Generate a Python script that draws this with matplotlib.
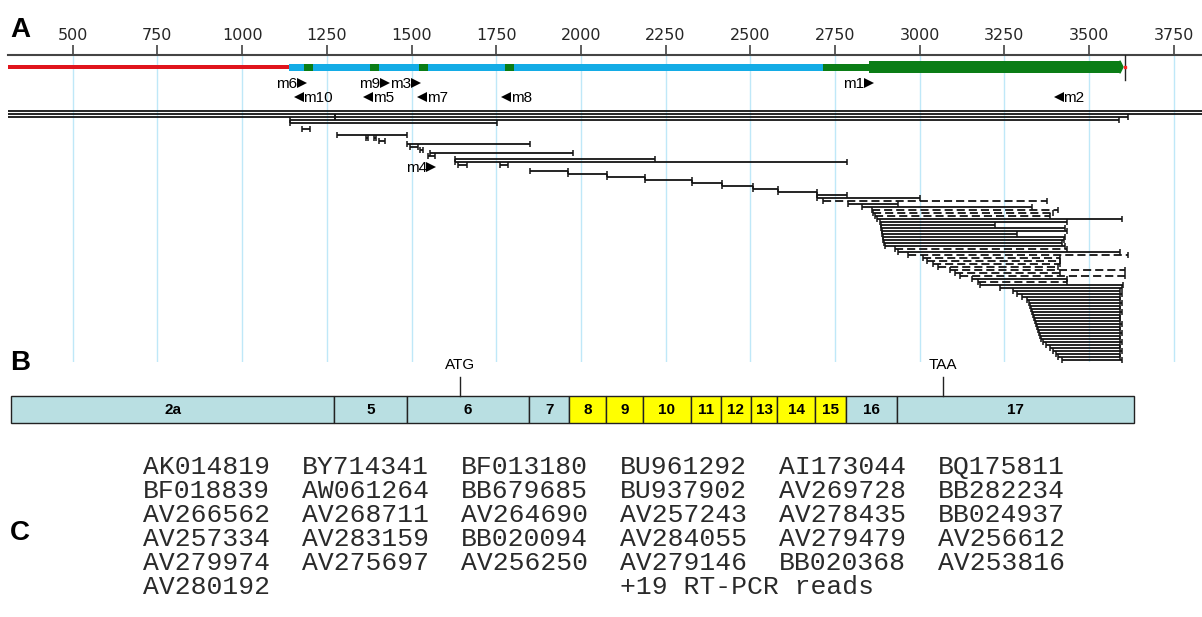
import matplotlib
matplotlib.use("Agg")
import matplotlib.pyplot as plt
from matplotlib.patches import Polygon

# ---------------- data ----------------
ruler_ticks = [500, 750, 1000, 1250, 1500, 1750, 2000, 2250, 2500, 2750, 3000, 3250, 3500, 3750]

# transcript model (nucleotide coordinates)
upstream = (309, 1138)
utr5 = (1138, 2714)
cds_thin = (2714, 2850)
cds_thick = (2850, 3597)
transcript_end = 3606
exon_junction_marks = [1183, 1377, 1522, 1776]

# primers
primer_names = ["m6", "m9", "m3", "m1", "m10", "m5", "m7", "m8", "m2", "m4"]
primer_pos = [1176, 1421, 1513, 2850, 1168, 1372, 1532, 1780, 3410, 1558]
primer_strand = ["+", "+", "+", "+", "-", "-", "-", "-", "-", "+"]

# aligned reads: start, end, stacking lane, gapped alignment
read_start = [309, 309, 309, 1275, 1141, 1141, 1177, 1280, 1365, 1388, 1405, 1487, 1495, 1525,
              1555, 1549, 1628, 1628, 1637, 1761,
              1850, 1962, 2077, 2189, 2328, 2417, 2508, 2582, 2697, 2697,
              2715, 2788, 2830, 2859, 2862, 2868, 2874,
              2883, 2886, 2886, 2889, 2889, 2892, 2892, 2895, 2898,
              2927, 2936, 2966, 3010, 3021, 3039, 3054, 3090, 3104, 3119, 3154, 3172, 3178,
              3237, 3275, 3287, 3302, 3317, 3323, 3326, 3329, 3332, 3335, 3338, 3340, 3343,
              3346, 3349, 3352, 3355, 3358, 3364, 3373, 3385, 3394, 3402, 3408, 3420]
read_end = [3833, 3833, 1275, 3615, 3588, 1752, 1200, 1487, 1372, 1395, 1423, 1850, 1520, 1535,
            1977, 1570, 2219, 2785, 1664, 1785,
            1962, 2077, 2189, 2328, 2417, 2508, 2582, 2697, 2785, 3001,
            3376, 2936, 3331, 3408, 3393, 3385, 3597,
            3435, 3222, 3430, 3435, 3287, 3430, 3425, 3420, 3430,
            3435, 3591, 3615, 3414, 3414, 3414, 3408, 3606, 3414, 3606, 3435, 3435, 3600,
            3598, 3591, 3598, 3591, 3591, 3598, 3591, 3591, 3598, 3591, 3591, 3591, 3598,
            3591, 3591, 3598, 3591, 3591, 3598, 3591, 3591, 3598, 3591, 3591, 3598]
read_lane = [0, 1, 2, 2, 3, 4, 6, 8, 9, 9, 10, 11, 12, 13,
             14, 15, 16, 17, 18, 18,
             20, 21, 22, 23, 24, 25, 26, 27, 28, 29,
             30, 31, 32, 33, 34, 35, 36,
             37, 38, 39, 40, 41, 42, 43, 44, 45,
             46, 47, 48, 49, 50, 51, 52, 53, 54, 55, 56, 57, 58,
             59, 60, 61, 62, 63, 64, 65, 66, 67, 68, 69, 70, 71,
             72, 73, 74, 75, 76, 77, 78, 79, 80, 81, 82, 83]
read_gapped = [False] * 30 + \
              [True, False, False, True, True, True, False] + \
              [False] * 9 + \
              [True, False, True, True, True, True, True, True, True, True, False, True, False] + \
              [False] * 25

# exon structure
exon_names = ["2a", "5", "6", "7", "8", "9", "10", "11", "12", "13", "14", "15", "16", "17"]
exon_bounds = [319, 1271, 1487, 1847, 1965, 2074, 2183, 2325, 2413, 2502, 2579, 2691, 2782, 2933, 3633]
variable_exons = ["8", "9", "10", "11", "12", "13", "14", "15"]
start_codon = ("ATG", 1643)
stop_codon = ("TAA", 3069)

# supporting sequences
accessions = ["AK014819", "BY714341", "BF013180", "BU961292", "AI173044", "BQ175811",
              "BF018839", "AW061264", "BB679685", "BU937902", "AV269728", "BB282234",
              "AV266562", "AV268711", "AV264690", "AV257243", "AV278435", "BB024937",
              "AV257334", "AV283159", "BB020094", "AV284055", "AV279479", "AV256612",
              "AV279974", "AV275697", "AV256250", "AV279146", "BB020368", "AV253816",
              "AV280192"]
rtpcr_reads = 19

# ---------------- layout ----------------
W, H = 1202, 617
fig = plt.figure(figsize=(W / 100, H / 100), dpi=100)
fig.patch.set_facecolor("white")


def fx(x):
    return x / W


def fy(y):
    return 1 - y / H


X0, X1 = 309, 3833.2
SANS = "Liberation Sans"

# panel A: ruler + transcript + reads (y in pixel rows)
ax = fig.add_axes([fx(8), fy(362), fx(1202) - fx(8), fy(55) - fy(362)])
ax.set_xlim(X0, X1)
ax.set_ylim(362, 55)
for s in ["left", "right", "bottom"]:
    ax.spines[s].set_visible(False)
ax.spines["top"].set_linewidth(1.5)
ax.spines["top"].set_color("#444444")
ax.xaxis.set_ticks_position("top")
ax.set_xticks(ruler_ticks)
ax.set_xticklabels([str(t) for t in ruler_ticks])
ax.tick_params(axis="x", direction="out", length=7, width=1.1, color="#333333",
               labelsize=11.5, labelcolor="#262626", pad=2)
ax.set_yticks([])
ax.grid(axis="x", color="#bfe8f8", lw=1)
ax.set_axisbelow(True)

TY = 67  # transcript row
ax.barh([TY], [upstream[1] - upstream[0]], left=[upstream[0]], height=3.5, color="#e0141c", zorder=3)
ax.barh([TY], [utr5[1] - utr5[0]], left=[utr5[0]], height=7, color="#14ace6", zorder=3)
ax.barh([TY] * len(exon_junction_marks), [27] * len(exon_junction_marks), left=exon_junction_marks,
        height=7, color="#0b7d16", zorder=4)
ax.barh([TY], [cds_thin[1] - cds_thin[0]], left=[cds_thin[0]], height=7, color="#0b7d16", zorder=3)
ax.barh([TY], [cds_thick[1] - cds_thick[0] - 6], left=[cds_thick[0]], height=12.5,
        color="#0b7d16", zorder=3)
ax.add_patch(Polygon([(cds_thick[1] - 6, TY - 6.25), (cds_thick[1] + 3, TY),
                      (cds_thick[1] - 6, TY + 6.25)], closed=True, color="#0b7d16", zorder=3))
ax.plot([transcript_end, transcript_end], [55, 80], color="#222222", lw=1, zorder=4)
ax.plot([transcript_end], [TY], "s", color="#ff2020", ms=1.6, zorder=5)

# primers
for name, pos, strand in zip(primer_names, primer_pos, primer_strand):
    if name == "m4":
        y = 167
    else:
        y = 83 if strand == "+" else 97
    marker = ">" if strand == "+" else "<"
    ax.plot([pos], [y], marker=marker, color="black", ms=7.5, mew=0, zorder=5)
    if strand == "+":
        ax.annotate(name, (pos, y), xytext=(-3.2, -0.5), textcoords="offset points",
                    ha="right", va="center", fontsize=11, family=SANS)
    else:
        ax.annotate(name, (pos, y), xytext=(3.2, -0.5), textcoords="offset points",
                    ha="left", va="center", fontsize=11, family=SANS)

# reads
LANE0, LANE_STEP = 111, 3.0
for s, e, lane, gapped in zip(read_start, read_end, read_lane, read_gapped):
    y = LANE0 + LANE_STEP * lane
    ls = (0, (4.5, 2.2)) if gapped else "-"
    ax.plot([s, e], [y, y], color="#141414", lw=1.3, ls=ls, solid_capstyle="butt",
            dash_capstyle="butt", zorder=3)
    ends = [v for v in (s, e) if X0 < v < X1 - 1]
    if ends:
        ax.plot(ends, [y] * len(ends), ls="none", marker="|", ms=4.5, mew=1.1,
                color="#141414", zorder=3)

# panel B: exon structure
axb = fig.add_axes([fx(8), fy(440), fx(1202) - fx(8), fy(340) - fy(440)])
axb.set_xlim(X0, X1)
axb.set_ylim(440, 340)
axb.axis("off")
starts = exon_bounds[:-1]
widths = [b - a for a, b in zip(exon_bounds[:-1], exon_bounds[1:])]
colors = ["#ffff00" if n in variable_exons else "#b9dfe2" for n in exon_names]
axb.barh([409.5] * len(starts), widths, left=starts, height=27, color=colors,
         edgecolor="#222222", lw=1.0)
for n, a, w in zip(exon_names, starts, widths):
    axb.text(a + w / 2, 414.5, n, ha="center", va="baseline", fontsize=11,
             fontweight="bold", family=SANS)
for label, pos in (start_codon, stop_codon):
    axb.plot([pos, pos], [377, 396], color="#222222", lw=1)
    axb.text(pos, 369, label, ha="center", va="baseline", fontsize=11, family=SANS)

# panel C: sequence list
MONO = "Liberation Mono"
for i, acc in enumerate(accessions):
    r, c = divmod(i, 6)
    fig.text(fx(143 + 159 * c), fy(474 + 24 * r), acc, family=MONO, fontsize=19,
             va="baseline", ha="left", color="#2a2a2a")
fig.text(fx(143 + 159 * 3), fy(474 + 24 * 5), f"+{rtpcr_reads} RT-PCR reads", family=MONO,
         fontsize=19, va="baseline", ha="left", color="#2a2a2a")

# panel letters
for letter, yb in (("A", 37), ("B", 370), ("C", 540)):
    fig.text(fx(10), fy(yb), letter, fontsize=20, fontweight="bold", family=SANS, va="baseline")

fig.savefig("out.png", dpi=100)
